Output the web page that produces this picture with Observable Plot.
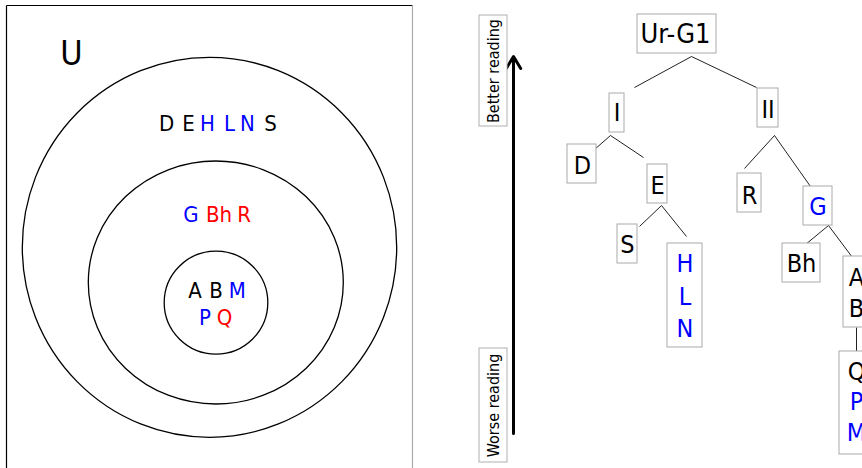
<!DOCTYPE html>
<html>
<head>
<meta charset="utf-8">
<script src="https://cdn.jsdelivr.net/npm/d3@7"></script>
<script src="https://cdn.jsdelivr.net/npm/@observablehq/plot@0.6"></script>
<style>
  html, body { margin: 0; padding: 0; background: #fff; }
  #chart svg { display: block; }
</style>
</head>
<body>
<div id="chart"></div>
<script>
// ---------- Left panel: Venn-style nested sets ----------
const frameEdges = [
  {side: "top",   x1: 6,   y1: 5, x2: 412, y2: 5,   color: "#000"},
  {side: "left",  x1: 6,   y1: 5, x2: 6,   y2: 468, color: "#000"},
  {side: "right", x1: 412, y1: 5, x2: 412, y2: 468, color: "#aaa"}
];
const rings = [
  {set: "outer",  cx: 209.5, cy: 247.3, rx: 187.2, ry: 190},
  {set: "middle", cx: 215.8, cy: 282.5, rx: 127.5, ry: 121.5},
  {set: "inner",  cx: 216,   cy: 302.6, rx: 51.8,  ry: 51.5}
];
const universeLabel = [{text: "U", x: 71, y: 52.5}];
const vennLetters = [
  {text: "D",  x: 166,   y: 122.5, color: "#000"},
  {text: "E",  x: 188,   y: 122.5, color: "#000"},
  {text: "H",  x: 207,   y: 122.5, color: "#0000ff"},
  {text: "L",  x: 229,   y: 122.5, color: "#0000ff"},
  {text: "N",  x: 247,   y: 122.5, color: "#0000ff"},
  {text: "S",  x: 270,   y: 122.5, color: "#000"},
  {text: "G",  x: 190.5, y: 213.3, color: "#0000ff"},
  {text: "Bh", x: 218.5, y: 213.3, color: "#ff0000"},
  {text: "R",  x: 243.5, y: 213.3, color: "#ff0000"},
  {text: "A",  x: 194.5, y: 289.2, color: "#000"},
  {text: "B",  x: 215.5, y: 289.2, color: "#000"},
  {text: "M",  x: 236.7, y: 289.2, color: "#0000ff"},
  {text: "P",  x: 204.5, y: 316,   color: "#0000ff"},
  {text: "Q",  x: 224,   y: 316,   color: "#ff0000"}
];

// ---------- Right panel: stemma tree ----------
const readingAxis = [{x1: 513, y1: 433, x2: 513, y2: 56}];
const axisLabels = [
  {text: "Better reading", x: 493, y: 70.5, x1: 479, x2: 507, y1: 15,  y2: 126},
  {text: "Worse reading",  x: 493, y: 405,  x1: 479, x2: 507, y1: 348, y2: 462}
];
const nodes = [
  {id: "Ur-G1", x1: 637, x2: 716, y1: 14,  y2: 53},
  {id: "I",     x1: 609, x2: 624, y1: 93,  y2: 132},
  {id: "II",    x1: 757, x2: 778, y1: 88,  y2: 127},
  {id: "D",     x1: 567, x2: 596, y1: 144, y2: 183},
  {id: "E",     x1: 647, x2: 667, y1: 164, y2: 203},
  {id: "R",     x1: 737, x2: 761, y1: 173, y2: 212},
  {id: "G",     x1: 803, x2: 832, y1: 186, y2: 225},
  {id: "S",     x1: 617, x2: 637, y1: 224, y2: 263},
  {id: "HLN",   x1: 667, x2: 702, y1: 243, y2: 347},
  {id: "Bh",    x1: 782, x2: 820, y1: 243, y2: 282},
  {id: "AB",    x1: 843, x2: 869, y1: 256, y2: 327},
  {id: "QPM",   x1: 839, x2: 873, y1: 351, y2: 454}
];
const nodeLines = [
  {node: "I",   text: "I",  x: 616.5, y: 111.7, color: "#000"},
  {node: "II",  text: "II", x: 767.5, y: 108.7, color: "#000"},
  {node: "D",   text: "D",  x: 582,   y: 164,   color: "#000"},
  {node: "E",   text: "E",  x: 657,   y: 184.2, color: "#000"},
  {node: "R",   text: "R",  x: 749,   y: 194.2, color: "#000"},
  {node: "G",   text: "G",  x: 817.5, y: 205.2, color: "#0000ff"},
  {node: "S",   text: "S",  x: 627,   y: 243,   color: "#000"},
  {node: "HLN", text: "H",  x: 684.5, y: 262.5, color: "#0000ff"},
  {node: "HLN", text: "L",  x: 684.5, y: 295,   color: "#0000ff"},
  {node: "HLN", text: "N",  x: 684.5, y: 327.5, color: "#0000ff"},
  {node: "Bh",  text: "Bh", x: 801,   y: 262.2, color: "#000"},
  {node: "AB",  text: "A",  x: 856,   y: 276.7, color: "#000"},
  {node: "AB",  text: "B",  x: 856,   y: 307.8, color: "#000"},
  {node: "QPM", text: "Q",  x: 856,   y: 370.5, color: "#000"},
  {node: "QPM", text: "P",  x: 856,   y: 400.5, color: "#0000ff"},
  {node: "QPM", text: "M",  x: 856,   y: 431.5, color: "#0000ff"}
];
const rootLabel = [{text: "Ur-G1", x: 675, y: 32.7}];
const edges = [
  {from: "Ur-G1", to: "I",   x1: 691, y1: 56,  x2: 634, y2: 87},
  {from: "Ur-G1", to: "II",  x1: 691, y1: 56,  x2: 756, y2: 87},
  {from: "I",     to: "D",   x1: 610, y1: 135, x2: 594, y2: 149},
  {from: "I",     to: "E",   x1: 610, y1: 135, x2: 643, y2: 157},
  {from: "II",    to: "R",   x1: 774, y1: 135, x2: 744, y2: 168},
  {from: "II",    to: "G",   x1: 774, y1: 135, x2: 810, y2: 186},
  {from: "E",     to: "S",   x1: 661, y1: 205, x2: 639, y2: 226},
  {from: "E",     to: "HLN", x1: 661, y1: 205, x2: 686, y2: 236},
  {from: "G",     to: "Bh",  x1: 828, y1: 225, x2: 805, y2: 244},
  {from: "G",     to: "AB",  x1: 828, y1: 225, x2: 852, y2: 257},
  {from: "AB",    to: "QPM", x1: 856, y1: 327, x2: 856, y2: 351}
];

const FONT = "'DejaVu Sans Condensed', 'DejaVu Sans', sans-serif";

function ringMark(index, scales) {
  const g = d3.create("svg:g")
    .attr("fill", "none")
    .attr("stroke", "#000")
    .attr("stroke-width", 1.3);
  g.selectAll("ellipse").data(rings).join("ellipse")
    .attr("cx", d => scales.x(d.cx))
    .attr("cy", d => scales.y(d.cy))
    .attr("rx", d => Math.abs(scales.x(d.cx + d.rx) - scales.x(d.cx)))
    .attr("ry", d => Math.abs(scales.y(d.cy + d.ry) - scales.y(d.cy)));
  return g.node();
}

const chart = Plot.plot({
  width: 862,
  height: 468,
  margin: 0,
  x: {type: "linear", domain: [0, 862], range: [0, 862], axis: null},
  y: {type: "linear", domain: [0, 468], range: [0, 468], axis: null},
  style: {background: "#fff", fontFamily: FONT},
  marks: [
    // left frame
    Plot.link(frameEdges, {x1: "x1", y1: "y1", x2: "x2", y2: "y2", stroke: "color", strokeWidth: 1.2}),
    ringMark,
    Plot.text(universeLabel, {x: "x", y: "y", text: "text", fontSize: 34, fontFamily: FONT, fill: "#000", lineAnchor: "middle", dy: 1}),
    Plot.text(vennLetters, {x: "x", y: "y", text: "text", fill: "color", fontSize: 22, fontFamily: FONT, lineAnchor: "middle", dy: 1}),
    // reading axis
    Plot.arrow(readingAxis, {x1: "x1", y1: "y1", x2: "x2", y2: "y2", stroke: "#000", strokeWidth: 3, headLength: 7, headAngle: 62}),
    Plot.rect(axisLabels, {x1: "x1", x2: "x2", y1: "y1", y2: "y2", fill: "#fff", stroke: "#b0b0b0", strokeWidth: 1}),
    Plot.text(axisLabels, {x: "x", y: "y", text: "text", rotate: -90, fontSize: 16, fontFamily: FONT, fill: "#000", lineAnchor: "middle"}),
    // tree
    Plot.link(edges, {x1: "x1", y1: "y1", x2: "x2", y2: "y2", stroke: "#222", strokeWidth: 1}),
    Plot.rect(nodes, {x1: "x1", x2: "x2", y1: "y1", y2: "y2", fill: "#fff", stroke: "#aaa", strokeWidth: 1}),
    Plot.text(rootLabel, {x: "x", y: "y", text: "text", fontSize: 27, fontFamily: FONT, fill: "#000", lineAnchor: "middle", dy: 1}),
    Plot.text(nodeLines, {x: "x", y: "y", text: "text", fill: "color", fontSize: 25, fontFamily: FONT, lineAnchor: "middle", dy: 1})
  ]
});
document.getElementById("chart").appendChild(chart);
</script>
</body>
</html>
